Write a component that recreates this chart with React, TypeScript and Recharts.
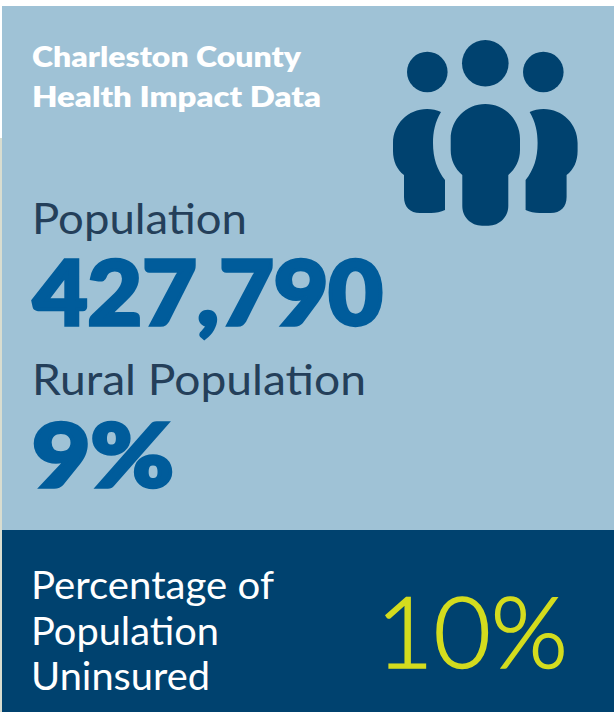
import { BarChart, Layer, Text } from 'recharts';

const WIDTH = 614;
const HEIGHT = 712;

const LIGHT_PANEL = '#9fc2d6';
const DARK_PANEL = '#00426f';
const ICON_BLUE = '#00426f';
const LABEL_INK = '#243f5a';
const VALUE_BLUE = '#005c9b';
const LIME = '#d4dc1e';

const titleLines = ['Charleston County', 'Health Impact Data'];
const populationLabel = 'Population';
const populationValue = 427790;
const ruralLabel = 'Rural Population';
const ruralValue = 9;
const uninsuredLines = ['Percentage of', 'Population', 'Uninsured'];
const uninsuredValue = 10;

const rows = [
  { name: populationLabel, value: populationValue },
  { name: ruralLabel, value: ruralValue },
  { name: uninsuredLines.join(' '), value: uninsuredValue },
];

function PeopleIcon() {
  const side =
    'M427,109 C432,109 437,110 441,112 C435,122 433,132 433,143 C433,158 437,170 445,180 L445,210 C441,212 436,213 431,213 L420,213 C410,213 404,207 404,197 L404,175 C397,170 393,161 393,151 L393,143 C393,124 408,109 427,109 Z';
  return (
    <Layer fill={ICON_BLUE}>
      <circle cx={427.3} cy={72} r={20.3} />
      <circle cx={485.3} cy={63.3} r={23.3} />
      <circle cx={543.3} cy={72} r={20.3} />
      <path d="M485.3,104 C504.5,104 520,119.5 520,139 L520,150 C520,160 515.5,169 508.3,175 L508.3,206 C508.3,217 499.5,225.7 488.5,225.7 L482,225.7 C471,225.7 462.3,217 462.3,206 L462.3,175 C455,169 450.7,160 450.7,150 L450.7,139 C450.7,119.5 466,104 485.3,104 Z" />
      <path d={side} />
      <path d={side} transform="translate(970.6,0) scale(-1,1)" />
    </Layer>
  );
}

type LineProps = {
  x: number;
  y: number;
  size: number;
  weight: number;
  fill: string;
  span: number;
  thicken?: number;
  children: string;
};

function Line({ x, y, size, weight, fill, span, thicken = 0, children }: LineProps) {
  return (
    <Text
      x={x}
      y={y}
      verticalAnchor="end"
      fontFamily="Lato"
      fontSize={size}
      fontWeight={weight}
      fill={fill}
      stroke={thicken ? fill : 'none'}
      strokeWidth={thicken}
      strokeLinejoin="miter"
      textLength={span}
      lengthAdjust="spacingAndGlyphs"
    >
      {children}
    </Text>
  );
}

export default function App() {
  return (
    <div style={{ position: 'absolute', left: 0, top: 0, width: WIDTH, height: HEIGHT, background: '#fff' }}>
      <BarChart width={WIDTH} height={HEIGHT} data={rows} margin={{ top: 0, right: 0, bottom: 0, left: 0 }}>
        <rect x={0} y={138} width={2} height={HEIGHT - 138} fill="#d9ddd0" />
        <rect x={2} y={6} width={WIDTH - 2} height={524} fill={LIGHT_PANEL} />
        <rect x={2} y={530} width={WIDTH - 2} height={HEIGHT - 530} fill={DARK_PANEL} />
        <PeopleIcon />

        <Line x={32} y={67} size={29} weight={800} fill="#ffffff" span={269}>{titleLines[0]}</Line>
        <Line x={32} y={107} size={29} weight={800} fill="#ffffff" span={289}>{titleLines[1]}</Line>

        <Line x={32} y={234} size={42} weight={400} fill={LABEL_INK} span={215}>{populationLabel}</Line>
        <Line x={33} y={325} size={90} weight={900} fill={VALUE_BLUE} span={350} thicken={3.5}>{populationValue.toLocaleString('en-US')}</Line>

        <Line x={32} y={395} size={42} weight={400} fill={LABEL_INK} span={334}>{ruralLabel}</Line>
        <Line x={32} y={487} size={88} weight={900} fill={VALUE_BLUE} span={142} thicken={3.5}>{`${ruralValue}%`}</Line>

        <Line x={31} y={599} size={38} weight={400} fill="#ffffff" span={243}>{uninsuredLines[0]}</Line>
        <Line x={31} y={645} size={38} weight={400} fill="#ffffff" span={188}>{uninsuredLines[1]}</Line>
        <Line x={31} y={690} size={38} weight={400} fill="#ffffff" span={179}>{uninsuredLines[2]}</Line>

        <Line x={376} y={668} size={99} weight={300} fill={LIME} span={192} thicken={1.6}>{`${uninsuredValue}%`}</Line>
      </BarChart>
    </div>
  );
}
